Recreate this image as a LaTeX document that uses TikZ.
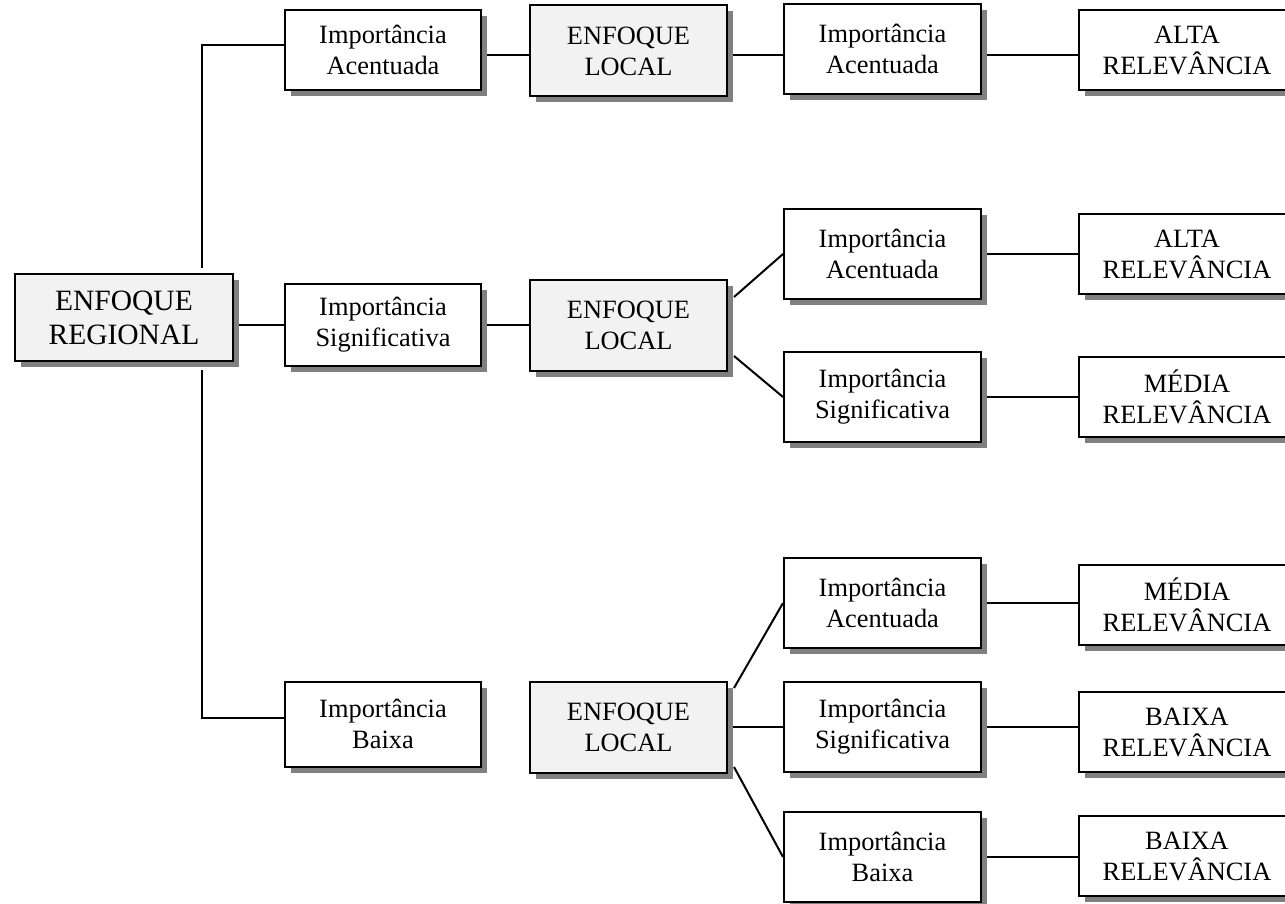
\documentclass[tikz,border=0pt]{standalone}
\usepackage{fontspec}
\setmainfont{Liberation Serif}
\usepackage{tikz}
\usetikzlibrary{calc}
\usetikzlibrary{shadows}
\definecolor{fundo}{RGB}{242,242,242}
\definecolor{sombra}{RGB}{128,128,128}
\pgfdeclarelayer{linhas}
\pgfsetlayers{linhas,main}

\begin{document}
\begin{tikzpicture}[x=1pt, y=-1pt,
	caixa/.style={draw, line width=2pt, fill=white, align=center, inner sep=0pt, minimum width=197pt, minimum height=90pt, font=\fontsize{26.4}{31}\selectfont, drop shadow={shadow xshift=6pt, shadow yshift=-6pt, fill=sombra, opacity=1}},
	enfoque/.style={caixa, fill=fundo, minimum height=91pt},
	relev/.style={caixa, minimum width=216pt, minimum height=80pt},
	ligacao/.style={line width=2pt}]
	\useasboundingbox (0,0) rectangle (1285,904);
	\clip (0,0) rectangle (1285,904);
	
	\node[enfoque, minimum width=218pt, minimum height=87pt, font=\fontsize{29.5}{34}\selectfont] (regional) at (124,317.5) {ENFOQUE\\REGIONAL};
	
	\node[caixa, minimum width=196pt, minimum height=80pt] (a1) at (383,50) {Importância\\Acentuada};
	\node[caixa, minimum width=196pt, minimum height=82pt] (s1) at (383,325) {Importância\\Significativa};
	\node[caixa, minimum width=196pt, minimum height=85pt] (b1) at (383,724) {Importância\\Baixa};
	
	\node[enfoque] (l1) at (628.5,51) {ENFOQUE\\LOCAL};
	\node[enfoque] (l2) at (628.5,325) {ENFOQUE\\LOCAL};
	\node[enfoque] (l3) at (628.5,727) {ENFOQUE\\LOCAL};
	
	\node[caixa] (t1) at (882.5,49) {Importância\\Acentuada};
	\node[caixa] (t2) at (882.5,254) {Importância\\Acentuada};
	\node[caixa] (t3) at (882.5,397) {Importância\\Significativa};
	\node[caixa] (t4) at (882.5,603) {Importância\\Acentuada};
	\node[caixa] (t5) at (882.5,727) {Importância\\Significativa};
	\node[caixa] (t6) at (882.5,857) {Importância\\Baixa};
	
	\node[relev] (r1) at (1187,50) {ALTA\\RELEVÂNCIA};
	\node[relev] (r2) at (1187,254) {ALTA\\RELEVÂNCIA};
	\node[relev] (r3) at (1187,397) {MÉDIA\\RELEVÂNCIA};
	\node[relev] (r4) at (1187,605) {MÉDIA\\RELEVÂNCIA};
	\node[relev] (r5) at (1187,732) {BAIXA\\RELEVÂNCIA};
	\node[relev] (r6) at (1187,856) {BAIXA\\RELEVÂNCIA};
	
	\begin{pgfonlayer}{linhas}
		\coordinate (topo) at (202,268);
		\coordinate (base) at (202,370);
		\draw[ligacao] (topo) |- ($(a1.west)+(0,-5)$);
		\draw[ligacao] (base) |- ($(b1.west)+(0,-6)$);
		\draw[ligacao] (regional.east |- s1.west) -- (s1.west);
		
		\draw[ligacao] ($(a1.east)+(0,5)$) -- ($(l1.west)+(0,4)$);
		\draw[ligacao] (s1.east) -- (l2.west);
		
		\draw[ligacao] ($(l1.east)+(0,4)$) -- ($(t1.west)+(0,6)$);
		\draw[ligacao] ($(l2.east)+(6,-28)$) -- (t2.west);
		\draw[ligacao] ($(l2.east)+(6,31)$) -- (t3.west);
		\draw[ligacao] ($(l3.east)+(6,-39)$) -- (t4.west);
		\draw[ligacao] (l3.east) -- (l3.east -| t5.west);
		\draw[ligacao] ($(l3.east)+(6,40)$) -- (t6.west);
		
		\draw[ligacao] ($(t1.east)+(0,6)$) -- ($(r1.west)+(0,5)$);
		\draw[ligacao] (t2.east) -- (t2.east -| r2.west);
		\draw[ligacao] (t3.east) -- (t3.east -| r3.west);
		\draw[ligacao] (t4.east) -- (t4.east -| r4.west);
		\draw[ligacao] (t5.east) -- (t5.east -| r5.west);
		\draw[ligacao] (t6.east) -- (t6.east -| r6.west);
	\end{pgfonlayer}
\end{tikzpicture}
\end{document}
